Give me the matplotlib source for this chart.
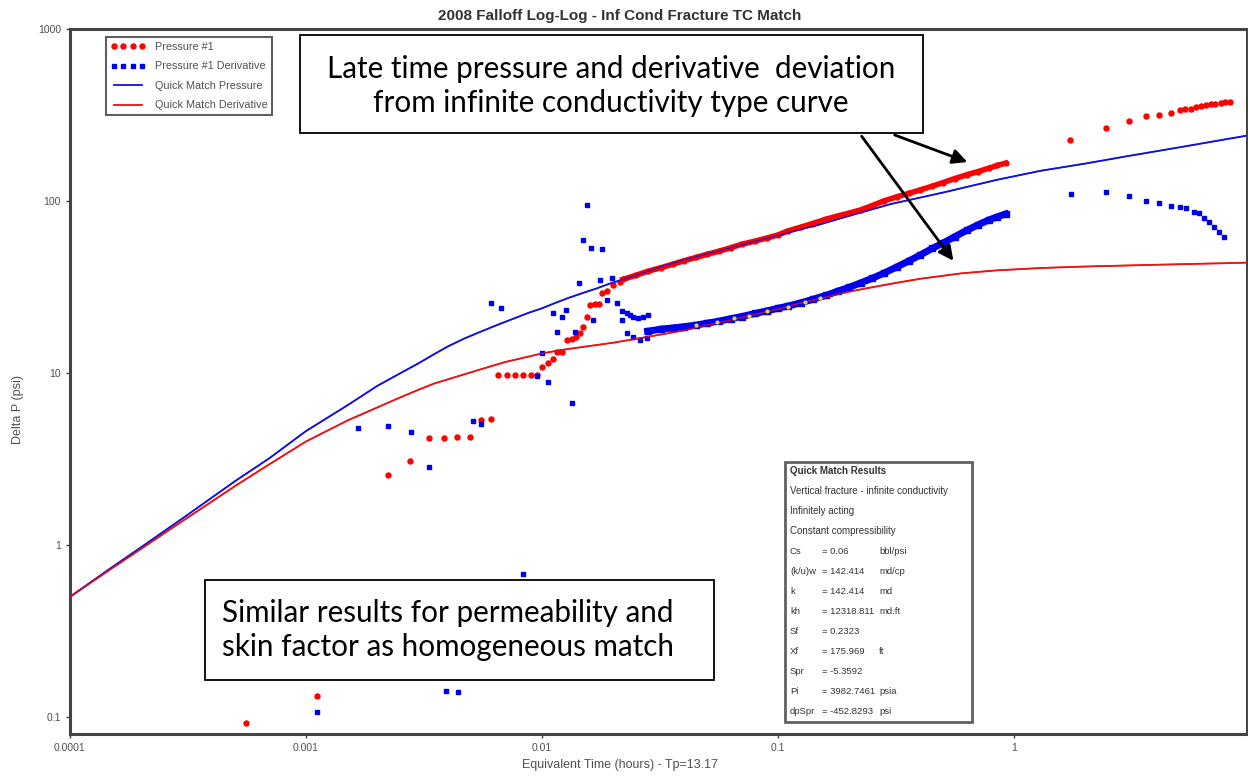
import matplotlib
matplotlib.use("Agg")
import matplotlib.pyplot as plt
from matplotlib.lines import Line2D
from matplotlib.patches import Rectangle, FancyArrowPatch

# ---- data (hours, psi) ----
# quick match type curves
qm_time = [1e-4, 1.5e-4, 2e-4, 3e-4, 5e-4, 7e-4, 1e-3, 1.5e-3, 2e-3, 2.5e-3,
           3e-3, 3.5e-3, 4e-3, 4.7e-3, 5.5e-3, 6.5e-3, 7.5e-3, 8.7e-3, 0.01,
           0.0115, 0.013, 0.015, 0.017, 0.019, 0.022, 0.025, 0.028, 0.033,
           0.04, 0.05, 0.06, 0.075, 0.1, 0.12, 0.15, 0.2, 0.3, 0.5, 0.85,
           1.3, 2, 3, 5, 9.7]
qm_pressure = [0.5, 0.74, 0.97, 1.43, 2.35, 3.2, 4.6, 6.5, 8.4, 9.95,
               11.4, 12.9, 14.3, 15.9, 17.4, 19.1, 20.6, 22.3, 23.8,
               25.7, 27.4, 29.3, 31, 32.8, 35, 37.1, 39, 42.2,
               45.5, 49.3, 52.5, 57, 63, 67.5, 73, 82, 96, 112, 133,
               150, 165, 182, 205, 240]

qm_deriv_time = [1e-4, 1.5e-4, 2e-4, 3e-4, 5e-4, 7e-4, 1e-3, 1.5e-3, 2e-3, 2.5e-3,
                 3e-3, 3.5e-3, 4e-3, 5e-3, 6e-3, 7e-3, 8e-3, 0.01, 0.012, 0.015,
                 0.02, 0.025, 0.03, 0.04, 0.05, 0.06, 0.075, 0.1, 0.12, 0.15,
                 0.18, 0.22, 0.3, 0.4, 0.6, 0.84, 1.3, 2, 4, 9.7]
qm_derivative = [0.5, 0.73, 0.95, 1.38, 2.2, 2.95, 4.0, 5.3, 6.3, 7.2,
                 8.0, 8.7, 9.2, 10.1, 10.9, 11.6, 12.1, 13.0, 13.6, 14.2,
                 15.0, 15.8, 16.5, 17.7, 19, 20, 21.5, 23.5, 25.2, 27,
                 28.8, 30.5, 33, 35.3, 38, 39.5, 40.8, 41.6, 42.6, 43.8]

# Pressure #1 - scattered early / transition points
p_time = [5.58e-4, 1.11e-3, 2.22e-3, 2.76e-3, 3.32e-3, 3.86e-3, 4.37e-3, 4.97e-3,
          5.5e-3, 6.1e-3, 6.5e-3, 7.1e-3, 7.7e-3, 8.3e-3, 9.0e-3, 9.5e-3,
          0.0100, 0.0106, 0.0111, 0.0116, 0.0122, 0.0127, 0.0134, 0.0139, 0.0145,
          0.0149, 0.0155, 0.0159, 0.0167, 0.0174, 0.0179, 0.0188, 0.0199, 0.0214,
          1.73, 2.45, 3.07, 3.62, 4.12, 4.64, 5.07, 5.32, 5.6, 5.9, 6.2, 6.5,
          6.8, 7.1, 7.5, 7.8, 8.2]
p_value = [0.0925, 0.133, 2.55, 3.08, 4.19, 4.19, 4.25, 4.25,
           5.33, 5.4, 9.7, 9.7, 9.7, 9.7, 9.7, 9.7,
           10.8, 11.4, 12.0, 13.2, 13.2, 15.5, 15.7, 16.2, 17.1,
           18.5, 21.2, 24.9, 25.2, 25.2, 29.2, 30, 32.3, 33.7,
           226, 265, 292, 311, 318, 327, 336, 342, 345, 350, 355, 360,
           364, 368, 372, 376, 378]

# Pressure #1 - dense middle band
pb_time = [0.022, 0.025, 0.028, 0.032, 0.036, 0.04, 0.045, 0.05, 0.056, 0.063,
           0.07, 0.08, 0.09, 0.1, 0.11, 0.125, 0.14, 0.16, 0.18, 0.2, 0.225,
           0.25, 0.28, 0.32, 0.36, 0.4, 0.45, 0.5, 0.56, 0.63, 0.7, 0.78,
           0.85, 0.92]
pb_value = [35, 37, 39, 41, 43, 45, 47, 49, 51, 53.5,
            56, 58.5, 61, 63.5, 67, 70.5, 74, 78.5, 82, 85, 89,
            94, 100, 106, 111, 116, 122, 128, 135, 142, 148, 155,
            161, 166]

# Pressure #1 Derivative - scattered points
d_time = [1.11e-3, 1.66e-3, 2.22e-3, 2.78e-3, 3.32e-3, 3.9e-3, 4.4e-3, 5.1e-3,
          5.5e-3, 6.1e-3, 6.7e-3, 8.3e-3, 9.5e-3, 0.0100, 0.0106, 0.0111,
          0.0116, 0.0122, 0.0126, 0.0134, 0.0138, 0.0143, 0.0149, 0.0155,
          0.0162, 0.0165, 0.0176, 0.0180, 0.0188, 0.0197, 0.0208, 0.0218,
          0.0218, 0.0228, 0.0228, 0.0236, 0.0242, 0.0242, 0.0255, 0.0260,
          0.0268, 0.0278, 0.0281,
          1.74, 2.45, 3.07, 3.62, 4.12, 4.64, 5.07, 5.37, 5.76, 6.05, 6.36,
          6.67, 7.0, 7.35, 7.72]
d_value = [0.107, 4.8, 4.92, 4.53, 2.84, 0.142, 0.14, 5.26,
           5.05, 25.5, 23.9, 0.678, 9.6, 13.0, 8.87, 22.4,
           17.3, 21.2, 23.2, 6.7, 17.3, 33.4, 59.3, 94.8,
           53.3, 20.3, 34.6, 52.7, 26.6, 35.5, 25.5, 23.0,
           20.3, 22.3, 17.1, 21.7, 21.2, 16.2, 20.8, 15.6,
           21.2, 15.9, 21.7,
           110, 113, 107, 100, 97.6, 93.5, 92.5, 91.3, 86.5, 85, 79.7,
           75.3, 70.6, 66, 61.8]

# Pressure #1 Derivative - dense middle band
db_time = [0.028, 0.032, 0.036, 0.04, 0.045, 0.05, 0.056, 0.063, 0.07, 0.08,
           0.09, 0.1, 0.11, 0.125, 0.14, 0.16, 0.18, 0.2, 0.225, 0.25, 0.28,
           0.32, 0.36, 0.4, 0.45, 0.5, 0.56, 0.63, 0.7, 0.78, 0.85, 0.92]
db_value = [17.5, 18, 18.3, 18.6, 19, 19.5, 20, 20.7, 21.3, 22.2,
            23, 23.8, 24.5, 25.6, 26.8, 28.3, 30, 31.5, 33.5, 35.5, 38,
            41.5, 45, 48.5, 53, 57, 62, 67.5, 72.5, 77.5, 81, 84]

# faint yellow points hidden in the derivative band
y_time = [0.045, 0.055, 0.065, 0.075, 0.09, 0.11, 0.13, 0.15]
y_value = [19.1, 19.9, 20.8, 21.5, 22.8, 24.3, 25.8, 27.3]

x_ticks = [1e-4, 1e-3, 1e-2, 1e-1, 1]
x_labels = ["0.0001", "0.001", "0.01", "0.1", "1"]
y_ticks = [0.1, 1, 10, 100, 1000]
y_labels = ["0.1", "1", "10", "100", "1000"]

results_head = ["Quick Match Results",
                "Vertical fracture - infinite conductivity",
                "Infinitely acting",
                "Constant compressibility"]
results_rows = [("Cs", "= 0.06", "bbl/psi"),
                ("(k/u)w", "= 142.414", "md/cp"),
                ("k", "= 142.414", "md"),
                ("kh", "= 12318.811", "md.ft"),
                ("Sf", "= 0.2323", ""),
                ("Xf", "= 175.969", "ft"),
                ("Spr", "= -5.3592", ""),
                ("Pi", "= 3982.7461", "psia"),
                ("dpSpr", "= -452.8293", "psi")]

narrow = ["Liberation Sans", "DejaVu Sans"]
callout = ["Lato", "DejaVu Sans"]
grey = "#505050"

W, H = 1248, 776
def fx(px):
    return px / W
def fy(py):
    return 1 - py / H

fig = plt.figure(figsize=(12.48, 7.76), dpi=100)
ax = fig.add_axes([fx(70), fy(734), (1247 - 70) / W, (734 - 29) / H])

ax.plot(qm_time, qm_pressure, color="#1010e0", lw=1.3, zorder=2)
ax.plot(qm_deriv_time, qm_derivative, color="#f01010", lw=1.3, zorder=2)

ax.plot(pb_time, pb_value, color="red", lw=4, marker="o", ms=3.5, zorder=3)
ax.plot(p_time, p_value, ls="none", color="red", marker="o", ms=3.6, zorder=3)
ax.plot(db_time, db_value, color="#0000ee", lw=5, marker="s", ms=4, zorder=3)
ax.plot(d_time, d_value, ls="none", color="#0000ee", marker="s", ms=3.3, zorder=3)
ax.plot(y_time, y_value, ls="none", color="#d8d840", marker="o", ms=2, zorder=4)
# keep the match curves visible through the dense bands
ax.plot(qm_time, qm_pressure, color="#1010e0", lw=1.0, zorder=3.5, alpha=0.8)
ax.plot(qm_deriv_time, qm_derivative, color="#f01010", lw=1.0, zorder=3.5, alpha=0.8)

ax.set_xscale("log")
ax.set_yscale("log")
ax.set_xlim(1e-4, 9.7)
ax.set_ylim(0.0797, 1000)
ax.minorticks_off()
ax.set_xticks(x_ticks, x_labels)
ax.set_yticks(y_ticks, y_labels)
ax.tick_params(direction="out", length=3, width=1, color="#404040",
               labelcolor=grey, labelsize=7.5)
for lab in ax.get_xticklabels() + ax.get_yticklabels():
    lab.set_family(narrow)
for sp in ax.spines.values():
    sp.set_color("#454545")
    sp.set_linewidth(2.2)

fig.text(fx(620), fy(16), "2008 Falloff Log-Log - Inf Cond Fracture TC Match",
         ha="center", va="center", fontsize=11, fontweight="bold",
         color="#333333", family=narrow)
fig.text(fx(620), fy(765), "Equivalent Time (hours) - Tp=13.17", ha="center",
         va="center", fontsize=9, color=grey, family=narrow)
fig.text(fx(18), fy(410), "Delta P (psi)", ha="center", va="center",
         rotation=90, fontsize=9, color=grey, family=narrow)

handles = [Line2D([], [], ls="none", marker="o", ms=3.6, color="red"),
           Line2D([], [], ls="none", marker="s", ms=3.3, color="#0000ee"),
           Line2D([], [], color="#1010e0", lw=1.3),
           Line2D([], [], color="#f01010", lw=1.3)]
labels = ["Pressure #1", "Pressure #1 Derivative", "Quick Match Pressure",
          "Quick Match Derivative"]
leg = ax.legend(handles, labels, loc="upper left", bbox_to_anchor=(0.031, 0.988),
                borderaxespad=0, numpoints=4, handlelength=3.2, fancybox=False,
                prop={"family": narrow, "size": 7.8}, labelspacing=0.88,
                handletextpad=0.9, framealpha=1, edgecolor="#606060")
leg.get_frame().set_linewidth(1.5)
for t in leg.get_texts():
    t.set_color(grey)

# quick match results box
fig.add_artist(Rectangle((fx(785), fy(722)), (972 - 785) / W, (722 - 462) / H,
                         transform=fig.transFigure, facecolor="white",
                         edgecolor="#606060", lw=2, zorder=5))
row_y = 471
for i, line in enumerate(results_head):
    fig.text(fx(790), fy(row_y), line, va="center", fontsize=7, color="#333333",
             family=narrow, fontweight="bold" if i == 0 else "normal", zorder=6)
    row_y += 20
for name, val, unit in results_rows:
    fig.text(fx(790), fy(row_y), name, va="center", fontsize=6.8, color="#333333",
             family=narrow, zorder=6)
    fig.text(fx(822), fy(row_y), val, va="center", fontsize=6.8, color="#333333",
             family=narrow, zorder=6)
    fig.text(fx(879), fy(row_y), unit, va="center", fontsize=6.8, color="#333333",
             family=narrow, zorder=6)
    row_y += 20

# call-out boxes
fig.add_artist(Rectangle((fx(300), fy(133)), (923 - 300) / W, (133 - 35) / H,
                         transform=fig.transFigure, facecolor="white",
                         edgecolor="black", lw=1.3, zorder=5))
fig.text(fx(611), fy(86), "Late time pressure and derivative  deviation\n"
         "from infinite conductivity type curve", ha="center", va="center",
         fontsize=21.3, family=callout, linespacing=1.22, zorder=6)
fig.add_artist(Rectangle((fx(205), fy(680)), (714 - 205) / W, (680 - 580) / H,
                         transform=fig.transFigure, facecolor="white",
                         edgecolor="black", lw=1.3, zorder=5))
fig.text(fx(222), fy(630), "Similar results for permeability and\n"
         "skin factor as homogeneous match", ha="left", va="center",
         fontsize=21.3, family=callout, linespacing=1.3, zorder=6)

for start, end in [((fx(892), fy(134)), (fx(970), fy(163))),
                   ((fx(860), fy(134)), (fx(955), fy(263)))]:
    fig.add_artist(FancyArrowPatch(start, end, transform=fig.transFigure,
                                   arrowstyle="-|>", mutation_scale=22, lw=2,
                                   color="black", zorder=6))

fig.savefig("out.png", dpi=100)
